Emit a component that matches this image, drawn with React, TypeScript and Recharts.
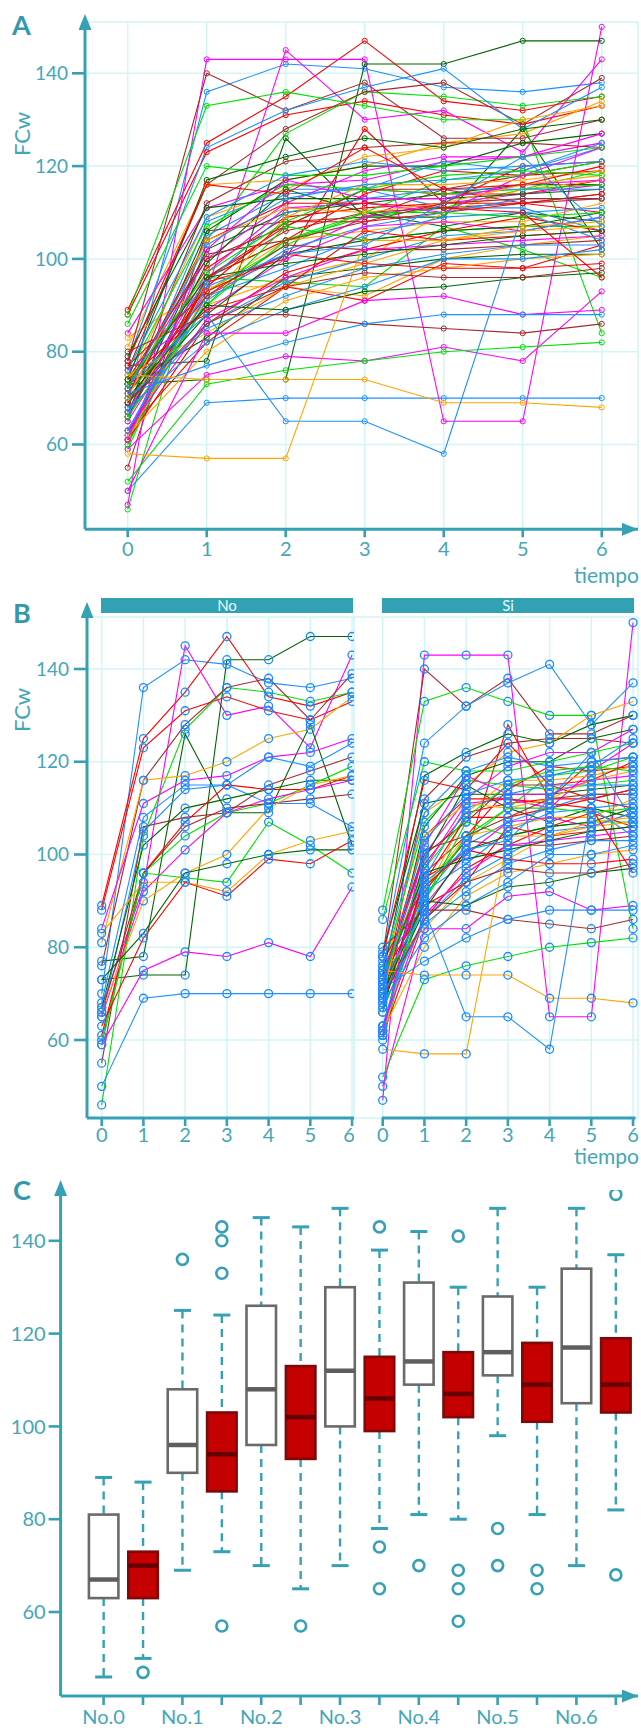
import { Bar, CartesianGrid, ComposedChart, Line, LineChart, ReferenceLine, XAxis, YAxis } from "recharts";

const TIMES = [0, 1, 2, 3, 4, 5, 6];
const Y_TICKS = [60, 80, 100, 120, 140];

// FCw per subject, tiempo 0..6 — grupo "No"
const NO_SUBJECTS: number[][] = [
  [70, 136, 142, 141, 137, 136, 138],
  [89, 125, 135, 147, 134, 132, 135],
  [88, 123, 131, 134, 131, 129, 133],
  [67, 93, 145, 130, 132, 123, 143],
  [73, 74, 74, 142, 142, 147, 147],
  [77, 78, 126, 109, 109, 128, 102],
  [46, 104, 127, 136, 135, 133, 135],
  [76, 116, 128, 136, 138, 129, 139],
  [81, 116, 117, 120, 125, 127, 134],
  [84, 111, 116, 117, 121, 122, 125],
  [68, 108, 115, 115, 121, 119, 124],
  [65, 105, 114, 115, 111, 111, 106],
  [55, 106, 108, 109, 115, 118, 121],
  [67, 102, 110, 112, 114, 116, 116],
  [60, 96, 104, 109, 111, 115, 119],
  [61, 96, 107, 115, 114, 114, 117],
  [65, 92, 101, 109, 112, 114, 116],
  [66, 96, 106, 110, 111, 112, 113],
  [59, 96, 95, 94, 107, 102, 96],
  [83, 94, 94, 92, 100, 103, 105],
  [66, 90, 96, 100, 110, 115, 117],
  [73, 83, 96, 98, 100, 101, 101],
  [63, 82, 94, 91, 99, 98, 103],
  [59, 75, 79, 78, 81, 78, 93],
  [50, 69, 70, 70, 70, 70, 70],
];
const NO_COLORS = [
  "dodgerblue", "red", "red", "magenta", "darkgreen", "darkgreen", "#00e000", "brown", "orange",
  "magenta", "dodgerblue", "dodgerblue", "brown", "darkgreen", "#00e000", "red", "magenta", "brown",
  "#00e000", "orange", "orange", "darkgreen", "red", "magenta", "dodgerblue",
];

// grupo "Si"
const SI_SUBJECTS: number[][] = [
  [47, 143, 143, 143, 65, 65, 150],
  [78, 140, 132, 138, 126, 126, 130],
  [88, 133, 136, 133, 130, 130, 84],
  [78, 124, 132, 137, 141, 128, 137],
  [62, 95, 100, 128, 112, 112, 110],
  [70, 112, 121, 124, 125, 125, 124],
  [73, 109, 115, 122, 124, 130, 133],
  [68, 106, 117, 120, 120, 125, 127],
  [72, 100, 112, 119, 122, 122, 127],
  [75, 107, 116, 115, 114, 115, 116],
  [79, 111, 113, 113, 113, 114, 115],
  [71, 98, 109, 111, 112, 120, 121],
  [62, 96, 104, 114, 119, 118, 119],
  [60, 93, 103, 110, 117, 118, 121],
  [73, 95, 110, 113, 115, 115, 115],
  [67, 97, 111, 112, 110, 118, 124],
  [69, 91, 109, 116, 116, 117, 119],
  [74, 100, 107, 115, 115, 112, 114],
  [66, 99, 115, 110, 107, 110, 108],
  [69, 94, 108, 108, 110, 112, 114],
  [62, 91, 102, 107, 110, 113, 113],
  [61, 93, 104, 106, 108, 108, 112],
  [71, 90, 107, 104, 106, 107, 107],
  [76, 89, 100, 107, 108, 106, 109],
  [63, 92, 98, 105, 109, 110, 111],
  [61, 86, 97, 102, 106, 109, 106],
  [69, 88, 101, 104, 106, 107, 110],
  [71, 92, 103, 102, 102, 103, 104],
  [67, 86, 95, 100, 105, 106, 109],
  [75, 84, 94, 99, 104, 107, 108],
  [66, 90, 104, 110, 110, 109, 110],
  [74, 89, 94, 106, 104, 105, 106],
  [63, 87, 96, 102, 103, 104, 105],
  [70, 85, 92, 98, 101, 103, 103],
  [73, 96, 99, 101, 103, 105, 106],
  [62, 80, 91, 96, 98, 100, 101],
  [77, 93, 101, 99, 98, 98, 99],
  [68, 82, 89, 94, 100, 100, 102],
  [70, 90, 89, 93, 94, 96, 97],
  [80, 88, 88, 86, 85, 84, 86],
  [50, 84, 84, 91, 92, 88, 89],
  [71, 77, 82, 86, 88, 88, 88],
  [52, 73, 76, 78, 80, 81, 82],
  [75, 74, 74, 74, 69, 69, 68],
  [73, 88, 65, 65, 58, 110, 104],
  [58, 57, 57, 104, 104, 106, 107],
  [72, 104, 112, 112, 111, 110, 96],
  [69, 86, 94, 97, 96, 96, 98],
  [86, 120, 118, 118, 120, 122, 124],
  [74, 117, 122, 126, 124, 128, 130],
  [76, 109, 118, 121, 119, 120, 121],
  [61, 102, 117, 113, 113, 116, 117],
  [70, 104, 111, 110, 112, 116, 118],
  [78, 116, 114, 124, 115, 116, 120],
  [63, 94, 101, 103, 112, 122, 107],
  [73, 101, 104, 108, 112, 113, 113],
  [72, 103, 113, 116, 117, 119, 125],
  [73, 97, 108, 115, 118, 119, 118],
];
const SI_COLORS = [
  "magenta", "brown", "#00e000", "dodgerblue", "red", "brown", "orange", "darkgreen", "magenta",
  "#00e000", "darkgreen", "red", "red", "#00e000", "dodgerblue", "magenta", "orange", "brown",
  "darkgreen", "red", "dodgerblue", "orange", "#00e000", "magenta", "dodgerblue", "red", "darkgreen",
  "brown", "dodgerblue", "orange", "#00e000", "red", "magenta", "dodgerblue", "darkgreen", "orange",
  "red", "dodgerblue", "darkgreen", "brown", "magenta", "dodgerblue", "#00e000", "orange", "dodgerblue",
  "orange", "red", "brown", "#00e000", "darkgreen", "dodgerblue", "magenta", "orange", "red",
  "dodgerblue", "brown", "dodgerblue", "#00e000",
];

// boxplot C (No.t, Si.t alternating)
const BOX_CATS = ["No.0", "Si.0", "No.1", "Si.1", "No.2", "Si.2", "No.3", "Si.3", "No.4", "Si.4", "No.5", "Si.5", "No.6", "Si.6"];
const BOX_LO = [46, 50, 69, 73, 70, 65, 70, 78, 81, 80, 98, 81, 70, 82];
const BOX_Q1 = [63, 63, 90, 86, 96, 93, 100, 99, 109, 102, 111, 101, 105, 103];
const BOX_MED = [67, 70, 96, 94, 108, 102, 112, 106, 114, 107, 116, 109, 117, 109];
const BOX_Q3 = [81, 73, 108, 103, 126, 113, 130, 115, 131, 116, 128, 118, 134, 119];
const BOX_HI = [89, 88, 125, 124, 145, 143, 147, 138, 142, 130, 147, 130, 147, 137];
const BOX_OUT = [[], [47], [136], [143, 140, 133, 57], [], [57], [], [143, 74, 65], [70], [141, 69, 65, 58], [78, 70], [69, 65], [], [150, 68]];

const TEAL = "#36a1b4";
const GRID = "#d2f5f6";
const FONT = "Lato, 'Open Sans', sans-serif";
const tick = { fill: "#44a6b8", fontSize: 19, fontFamily: FONT };
const xtick = { fill: "#44a6b8", fontSize: 20, fontFamily: FONT };

const rows = TIMES.map((t, i) => {
  const r: Record<string, number> = { t };
  NO_SUBJECTS.forEach((s, j) => (r[`n${j}`] = s[i]));
  SI_SUBJECTS.forEach((s, j) => (r[`s${j}`] = s[i]));
  return r;
});

const boxRows = BOX_CATS.map((c, i) => ({
  cat: c,
  lo: BOX_LO[i],
  q1: BOX_Q1[i],
  med: BOX_MED[i],
  q3: BOX_Q3[i],
  hi: BOX_HI[i],
  out: BOX_OUT[i],
}));

const Arrow = ({ id, refX }: { id: string; refX: number }) => (
  <marker id={id} viewBox="0 0 16 13" markerWidth={16} markerHeight={13} refX={refX} refY={6.5}
    orient="auto-start-reverse" markerUnits="userSpaceOnUse">
    <path d="M0,0 L16,6.5 L0,13 Z" fill={TEAL} />
  </marker>
);

function subjectLines(prefix: string, subjects: number[][], colors: string[], big: boolean) {
  return subjects.map((_, j) => (
    <Line
      key={`${prefix}${j}`}
      type="linear"
      dataKey={`${prefix}${j}`}
      stroke={colors[j % colors.length]}
      strokeWidth={1.1}
      dot={
        big
          ? { r: 4, stroke: "#1e88ff", strokeWidth: 1.3, fill: "none" }
          : { r: 2.6, stroke: colors[j % colors.length], strokeWidth: 1, fill: "none" }
      }
      isAnimationActive={false}
    />
  ));
}

function BoxShape(props: any) {
  const { x, y, width, height, payload } = props;
  if (!payload) return null;
  const top = Math.min(y, y + height);
  const bot = Math.max(y, y + height);
  const k = (bot - top) / (payload.hi - payload.lo);
  const py = (v: number) => top + (payload.hi - v) * k;
  const cx = x + width / 2;
  const red = payload.cat.startsWith("Si");
  const fill = red ? "#c40000" : "#ffffff";
  const edge = red ? "#7c0a0a" : "#6a6a6a";
  const mid = red ? "#650000" : "#5e5e5e";
  return (
    <g>
      <line x1={cx} x2={cx} y1={py(payload.hi)} y2={py(payload.q3)} stroke={TEAL} strokeWidth={2.4} strokeDasharray="8 6" />
      <line x1={cx} x2={cx} y1={py(payload.q1)} y2={py(payload.lo)} stroke={TEAL} strokeWidth={2.4} strokeDasharray="8 6" />
      <line x1={cx - 8.5} x2={cx + 8.5} y1={py(payload.hi)} y2={py(payload.hi)} stroke={TEAL} strokeWidth={3} />
      <line x1={cx - 8.5} x2={cx + 8.5} y1={py(payload.lo)} y2={py(payload.lo)} stroke={TEAL} strokeWidth={3} />
      <rect x={x} y={py(payload.q3)} width={width} height={py(payload.q1) - py(payload.q3)} fill={fill} stroke={edge} strokeWidth={2.6} />
      <line x1={x} x2={x + width} y1={py(payload.med)} y2={py(payload.med)} stroke={mid} strokeWidth={4.5} />
      {payload.out.map((v: number, i: number) => (
        <circle key={i} cx={cx} cy={py(v)} r={5.5} fill="none" stroke={TEAL} strokeWidth={2.6} />
      ))}
    </g>
  );
}

const txt = (s: any) => ({ position: "absolute" as const, fontFamily: FONT, color: "#44a6b8", ...s });

export default function App() {
  return (
    <div style={{ position: "absolute", left: 0, top: 0, width: 641, height: 1731, background: "#fff", overflow: "hidden" }}>
      {/* A */}
      <div style={{ position: "absolute", left: 0, top: 0 }}>
        <LineChart width={641} height={580} data={rows} margin={{ top: 22, right: 3, left: 0, bottom: 0 }}>
          <defs>
            <Arrow id="arrAY" refX={8} />
            <Arrow id="arrAX" refX={16} />
          </defs>
          <CartesianGrid stroke={GRID} strokeWidth={1.5} />
          <XAxis dataKey="t" type="number" domain={[-0.5405, 6.459]} ticks={TIMES} allowDataOverflow height={50.7}
            tick={xtick} tickSize={8} tickMargin={4} tickLine={{ stroke: TEAL, strokeWidth: 2.6 }}
            axisLine={{ stroke: TEAL, strokeWidth: 3, markerEnd: "url(#arrAX)" }} />
          <YAxis type="number" domain={[41.72, 151.06]} ticks={Y_TICKS} allowDataOverflow width={85}
            tick={tick} tickSize={13} tickMargin={4} tickLine={{ stroke: TEAL, strokeWidth: 2.6 }}
            axisLine={{ stroke: TEAL, strokeWidth: 3, markerStart: "url(#arrAY)" }} />
          {subjectLines("n", NO_SUBJECTS, NO_COLORS, false)}
          {subjectLines("s", SI_SUBJECTS, SI_COLORS, false)}
        </LineChart>
      </div>

      {/* B: No */}
      <div style={{ position: "absolute", left: 0, top: 580 }}>
        <LineChart width={354} height={580} data={rows} margin={{ top: 37, right: 0, left: 0, bottom: 0 }}>
          <defs>
            <Arrow id="arrBY" refX={1} />
          </defs>
          <CartesianGrid stroke={GRID} strokeWidth={1.5} />
          <XAxis dataKey="t" type="number" domain={[-0.352, 6.047]} ticks={TIMES} allowDataOverflow height={42}
            tick={xtick} tickSize={8} tickMargin={2} tickLine={{ stroke: TEAL, strokeWidth: 2.6 }}
            axisLine={{ stroke: TEAL, strokeWidth: 3 }} />
          <YAxis type="number" domain={[43.18, 151.21]} ticks={Y_TICKS} allowDataOverflow width={87}
            tick={tick} tickSize={13} tickMargin={5} tickLine={{ stroke: TEAL, strokeWidth: 2.6 }}
            axisLine={{ stroke: TEAL, strokeWidth: 3, markerStart: "url(#arrBY)" }} />
          {subjectLines("n", NO_SUBJECTS, NO_COLORS, true)}
        </LineChart>
      </div>

      {/* B: Si */}
      <div style={{ position: "absolute", left: 354, top: 580 }}>
        <LineChart width={287} height={580} data={rows} margin={{ top: 37, right: 3, left: 0, bottom: 0 }}>
          <CartesianGrid stroke={GRID} strokeWidth={1.5} />
          <XAxis dataKey="t" type="number" domain={[-0.688, 6.119]} ticks={TIMES} allowDataOverflow height={42}
            tick={xtick} tickSize={8} tickMargin={2} tickLine={{ stroke: TEAL, strokeWidth: 2.6 }} axisLine={false} />
          <YAxis type="number" domain={[43.18, 151.21]} ticks={Y_TICKS} allowDataOverflow hide />
          <ReferenceLine
            segment={[{ x: -0.02, y: 43.18 }, { x: 6.06, y: 43.18 }]}
            stroke={TEAL}
            strokeWidth={3}
            ifOverflow="visible"
          />
          {subjectLines("s", SI_SUBJECTS, SI_COLORS, true)}
        </LineChart>
      </div>

      {/* C */}
      <div style={{ position: "absolute", left: 0, top: 1160 }}>
        <ComposedChart width={641} height={571} data={boxRows} margin={{ top: 30, right: 3, left: 0, bottom: 0 }}>
          <defs>
            <Arrow id="arrCY" refX={6} />
            <Arrow id="arrCX" refX={16} />
          </defs>
          <XAxis dataKey="cat" type="category" interval={0} padding={{ left: 23.3, right: 2.5 }} height={35}
            tick={xtick} tickSize={9} tickMargin={5} tickLine={{ stroke: TEAL, strokeWidth: 2.6 }}
            tickFormatter={(v: string) => (v.startsWith("No") ? v : "")}
            axisLine={{ stroke: TEAL, strokeWidth: 3, markerEnd: "url(#arrCX)" }} />
          <YAxis type="number" domain={[41.9, 150.95]} ticks={Y_TICKS} allowDataOverflow width={60.6}
            tick={{ ...tick, fontSize: 20 }} tickSize={12} tickMargin={3} tickLine={{ stroke: TEAL, strokeWidth: 2.6 }}
            axisLine={{ stroke: TEAL, strokeWidth: 3, markerStart: "url(#arrCY)" }} />
          <Bar dataKey={(d: any) => [d.lo, d.hi]} barSize={29.5} shape={BoxShape} isAnimationActive={false} />
        </ComposedChart>
      </div>

      {/* labels */}
      <div style={txt({ left: 12, top: 8, fontSize: 27, fontWeight: 700, color: "#3299ad" })}>A</div>
      <div style={txt({ left: 13, top: 596, fontSize: 27, fontWeight: 700, color: "#3299ad" })}>B</div>
      <div style={txt({ left: 13, top: 1173, fontSize: 27, fontWeight: 700, color: "#3299ad" })}>C</div>
      <div style={txt({ left: -8, top: 121, width: 60, height: 26, lineHeight: "26px", textAlign: "center", fontSize: 22, transform: "rotate(-90deg)" })}>FCw</div>
      <div style={txt({ left: -8, top: 697, width: 60, height: 26, lineHeight: "26px", textAlign: "center", fontSize: 22, transform: "rotate(-90deg)" })}>FCw</div>
      <div style={txt({ left: 540, top: 562, width: 99, height: 26, lineHeight: "26px", textAlign: "right", fontSize: 21 })}>tiempo</div>
      <div style={txt({ left: 540, top: 1143, width: 99, height: 26, lineHeight: "26px", textAlign: "right", fontSize: 21 })}>tiempo</div>
      <div style={{ position: "absolute", left: 101, top: 598, width: 252, height: 15, background: "#33a1b4", color: "#e6fafb", fontFamily: FONT, fontSize: 15, lineHeight: "15px", textAlign: "center" }}>No</div>
      <div style={{ position: "absolute", left: 382, top: 598, width: 252, height: 15, background: "#33a1b4", color: "#e6fafb", fontFamily: FONT, fontSize: 15, lineHeight: "15px", textAlign: "center" }}>Si</div>
    </div>
  );
}
